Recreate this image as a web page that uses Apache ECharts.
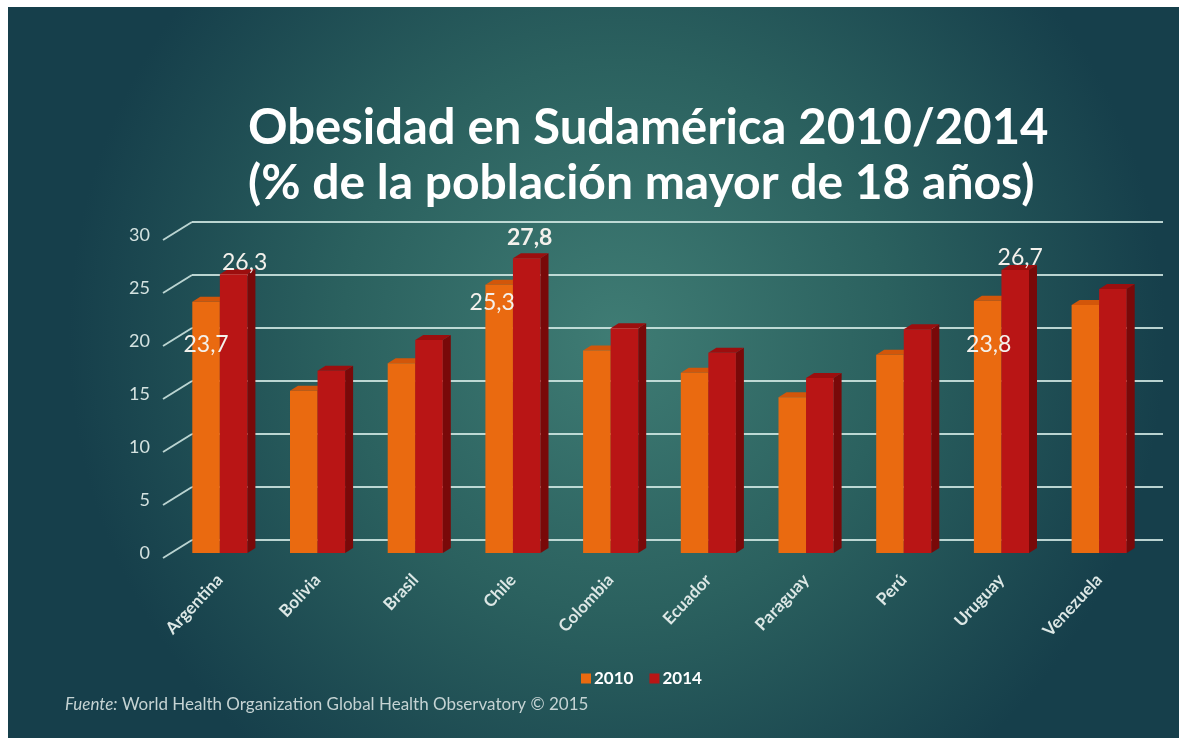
<!DOCTYPE html>
<html>
<head>
<meta charset="utf-8">
<script src="https://cdn.jsdelivr.net/npm/echarts@6/dist/echarts.min.js"></script>
<style>
  html, body { margin: 0; padding: 0; background: #fff; }
  #main { width: 1179px; height: 738px; }
</style>
</head>
<body>
<div id="main"></div>
<script>
// datos
const countries = ['Argentina', 'Bolivia', 'Brasil', 'Chile', 'Colombia', 'Ecuador', 'Paraguay', 'Perú', 'Uruguay', 'Venezuela']
const obesity2010 = [23.7, 15.3, 17.9, 25.3, 19.1, 17.0, 14.7, 18.7, 23.8, 23.4]
const obesity2014 = [26.3, 17.2, 20.1, 27.8, 21.2, 18.9, 16.5, 21.1, 26.7, 24.9]
const yTicks = [0, 5, 10, 15, 20, 25, 30]
const seriesNames = ['2010', '2014']

// which bars carry a value label, and where it sits (dx, dy from the bar top)
const labelSpots = {
  '2010': { Argentina: [0, 43], Chile: [-7, 18], Uruguay: [1, 44] },
  '2014': { Argentina: [11, -12], Chile: [3, -21, 'bold'], Uruguay: [5, -12] }
}

const FONT = 'Lato'
const colors = {
  '2010': { front: '#ea6a10', top: '#d2560a', side: '#b04a08' },
  '2014': { front: '#b91515', top: '#9c0e0e', side: '#790909' }
}

function bar3d (name, idx) {
  return function (params, api) {
    const cat = api.value(0)
    const val = api.value(1)
    const base = api.coord([cat, 0])
    const top = api.coord([cat, val])
    const band = api.size([1, 0])[0]
    const w = band * 0.282
    const dx = 8
    const dy = 5
    const x0 = idx === 0 ? base[0] - w : base[0]
    const x1 = x0 + w
    const yb = base[1]
    const yt = top[1]
    const c = colors[name]
    const children = [
      { type: 'polygon', shape: { points: [[x1, yt], [x1 + dx, yt - dy], [x1 + dx, yb - dy], [x1, yb]] }, style: { fill: c.side } },
      { type: 'polygon', shape: { points: [[x0, yt], [x0 + dx, yt - dy], [x1 + dx, yt - dy], [x1, yt]] }, style: { fill: c.top } },
      { type: 'rect', shape: { x: x0, y: yt, width: w, height: yb - yt }, style: { fill: c.front } }
    ]
    const spot = labelSpots[name][countries[cat]]
    if (spot) {
      children.push({
        type: 'text',
        z2: 100,
        x: (x0 + x1) / 2 + spot[0],
        y: yt + spot[1],
        style: {
          text: val.toFixed(1).replace('.', ','),
          fill: '#f4f1ec',
          fontSize: 23,
          fontFamily: FONT,
          fontWeight: spot[2] || 'normal',
          align: 'center',
          verticalAlign: 'middle'
        }
      })
    }
    return { type: 'group', children: children }
  }
}

const chart = echarts.init(document.getElementById('main'))

const option = {
  animation: false,
  backgroundColor: '#ffffff',
  title: [
    {
      text: 'Obesidad en Sudamérica 2010/2014',
      left: 243,
      top: 99,
      textStyle: { color: '#ffffff', fontSize: 49, fontWeight: 'bold', fontFamily: FONT }
    },
    {
      text: '(% de la población mayor de 18 años)',
      left: 243,
      top: 155,
      textStyle: { color: '#ffffff', fontSize: 48, fontWeight: 'bold', fontFamily: FONT }
    }
  ],
  legend: {
    data: seriesNames,
    left: 576,
    top: 665,
    icon: 'rect',
    itemWidth: 10,
    itemHeight: 10,
    itemGap: 16,
    textStyle: { color: '#ffffff', fontSize: 17, fontWeight: 'bold', fontFamily: FONT, padding: [0, 0, 0, -2] }
  },
  grid: [
    // back wall
    { left: 192, right: 16, top: 222, bottom: 198 },
    // bars
    { left: 171, right: 31, top: 235, bottom: 185 }
  ],
  xAxis: [
    { gridIndex: 0, type: 'category', data: countries, show: false },
    {
      gridIndex: 1,
      type: 'category',
      data: countries,
      axisLine: { show: false },
      axisTick: { show: false },
      axisLabel: {
        rotate: 47,
        margin: 24,
        interval: 0,
        color: '#dce7e5',
        fontSize: 17,
        fontWeight: 'bold',
        fontFamily: FONT
      }
    }
  ],
  yAxis: [
    {
      gridIndex: 0,
      type: 'value',
      min: 0,
      max: 30,
      interval: 5,
      axisLabel: { show: false },
      axisLine: { show: false },
      axisTick: { show: false },
      splitLine: { lineStyle: { color: 'rgba(214,236,232,0.85)', width: 2 } }
    },
    {
      gridIndex: 1,
      type: 'value',
      min: 0,
      max: 30,
      interval: 5,
      axisLine: { show: false },
      axisTick: { show: false },
      splitLine: { show: false },
      axisLabel: {
        margin: 21,
        color: '#d4e2e0',
        fontSize: 18,
        fontFamily: FONT,
        padding: [10, 0, 0, 0]
      }
    }
  ],
  series: [
    {
      name: '2010',
      type: 'custom',
      xAxisIndex: 1,
      yAxisIndex: 1,
      itemStyle: { color: colors['2010'].front },
      renderItem: bar3d('2010', 0),
      data: obesity2010.map((v, i) => [i, v])
    },
    {
      name: '2014',
      type: 'custom',
      xAxisIndex: 1,
      yAxisIndex: 1,
      itemStyle: { color: colors['2014'].front },
      renderItem: bar3d('2014', 1),
      data: obesity2014.map((v, i) => [i, v])
    }
  ]
}

chart.setOption(option)

// slide background, perspective lines and source note
const diag = yTicks.map(function (t) {
  const back = chart.convertToPixel({ yAxisIndex: 0 }, t)
  const front = chart.convertToPixel({ yAxisIndex: 1 }, t)
  return {
    type: 'line',
    silent: true,
    z: 1,
    shape: { x1: 163, y1: front + 5, x2: 192, y2: back },
    style: { stroke: 'rgba(214,236,232,0.85)', lineWidth: 2 }
  }
})

chart.setOption({
  graphic: [
    {
      type: 'rect',
      silent: true,
      z: -100,
      shape: { x: 8, y: 7, width: 1171, height: 731 },
      style: {
        fill: {
          type: 'radial',
          x: 0.52,
          y: 0.45,
          r: 0.75,
          colorStops: [
            { offset: 0, color: '#3f7c74' },
            { offset: 0.5, color: '#2b615f' },
            { offset: 1, color: '#163f4b' }
          ]
        }
      }
    },
    {
      type: 'text',
      silent: true,
      left: 65,
      top: 696,
      style: {
        text: '{i|Fuente:} World Health Organization Global Health Observatory © 2015',
        fill: '#c5d3d3',
        fontSize: 17,
        fontFamily: FONT,
        rich: {
          i: { fontStyle: 'italic', fontSize: 17, fontFamily: FONT, fill: '#c5d3d3' }
        }
      }
    }
  ].concat(diag)
})
</script>
</body>
</html>
